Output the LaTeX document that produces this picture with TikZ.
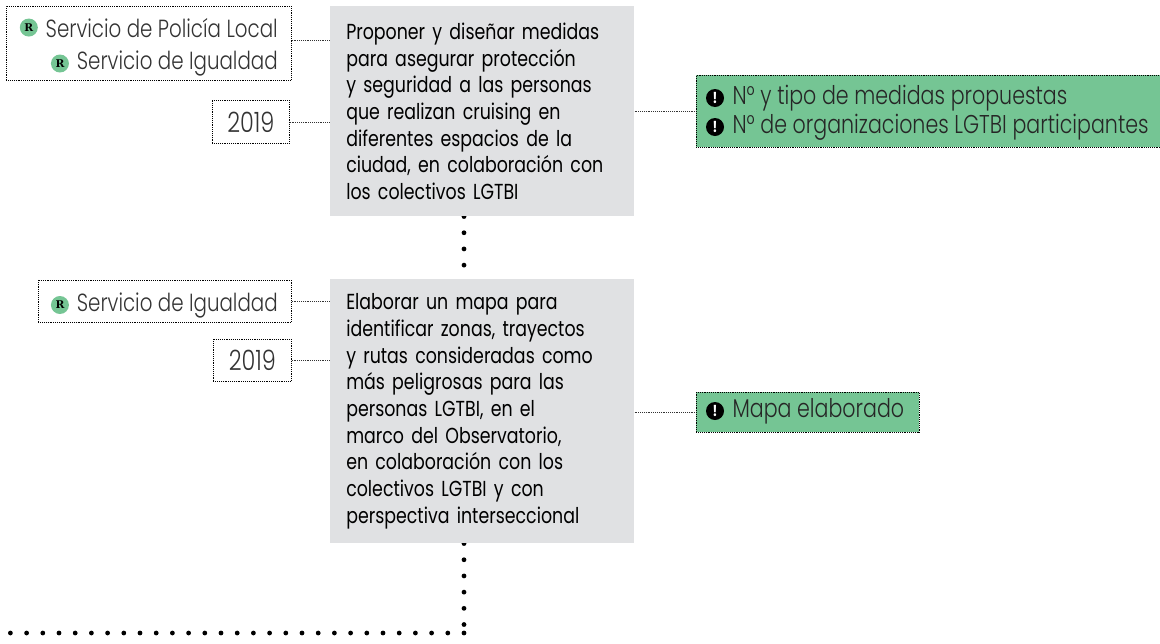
\documentclass[tikz,border=0pt]{standalone}
\usepackage{fontspec}
\setmainfont{Poppins}[FakeStretch=0.8]
\newfontfamily\lightfont{Poppins Light}[FakeStretch=0.8]
\newfontfamily\markfont{DejaVu Serif}
\usetikzlibrary{positioning, calc, backgrounds}
\definecolor{mintgreen}{HTML}{75C594}
\definecolor{boxgray}{HTML}{E0E1E3}
\definecolor{labelgray}{HTML}{333333}
\tikzset{
  dotbox/.style={draw=black, line width=0.5pt, dash pattern=on 0.7pt off 0.7pt, anchor=north west, inner sep=0pt},
  conn/.style={draw=black!80, line width=0.5pt, dash pattern=on 0.7pt off 0.7pt},
  dotline/.style={line width=3.6pt, line cap=round, dash pattern=on 0pt off 12.15pt},
  actionbox/.style={fill=boxgray, anchor=north west, minimum width=228pt, inner xsep=12pt, inner ysep=0pt, text width=204pt, align=left, font=\fontsize{16.3}{20}\selectfont},
  unitlabel/.style={anchor=base east, inner sep=0pt, text=labelgray, font=\lightfont\fontsize{18.6}{20}\selectfont},
  goallabel/.style={right=6pt of #1, inner sep=0pt, text=black!85, font=\lightfont\fontsize{19.3}{20}\selectfont},
  rmark/.style={left=5.5pt of #1, circle, fill=mintgreen, inner sep=0pt, minimum size=13.5pt, text=black, font=\markfont\fontsize{8}{8}\bfseries\selectfont},
  alertmark/.style={circle, fill=black, inner sep=0pt, minimum size=13.5pt, text=white, font=\fontsize{11.5}{11.5}\bfseries\selectfont}
}
\begin{document}
\begin{tikzpicture}[x=0.75pt, y=-0.75pt]
  \useasboundingbox (0,0) rectangle (1160,643);

  \node[actionbox, minimum height=157.5pt] (action1) at (330,6) {Proponer y diseñar medidas\\para asegurar protección\\y seguridad a las personas\\que realizan cruising en\\diferentes espacios de la\\ciudad, en colaboración con\\los colectivos LGTBI};
  \node[actionbox, minimum height=198pt] (action2) at (330,279) {Elaborar un mapa para\\identificar zonas, trayectos\\y rutas consideradas como\\más peligrosas para las\\personas LGTBI, en el\\marco del Observatorio,\\en colaboración con los\\colectivos LGTBI y con\\perspectiva interseccional};

  \node[dotbox, minimum width=213.75pt, minimum height=55.5pt] (unit1) at (6,6) {};
  \node[dotbox, minimum width=57.75pt, minimum height=32.25pt, font=\lightfont\fontsize{21}{22}\selectfont, text=labelgray] (date1) at (212,100) {2019};
  \node[dotbox, minimum width=189.75pt, minimum height=32pt] (unit2) at (38,279.5) {};
  \node[dotbox, minimum width=58.5pt, minimum height=31.5pt, font=\lightfont\fontsize{21}{22}\selectfont, text=labelgray] (date2) at (213,339) {2019};

  \node[unitlabel] (police) at (278,37) {Servicio de Policía Local};
  \node[rmark=police] (rpolice) {R};
  \node[unitlabel] (equality1) at (278,69.5) {Servicio de Igualdad};
  \node[rmark=equality1] (requality1) {R};
  \node[unitlabel] (equality2) at (278,311) {Servicio de Igualdad};
  \node[rmark=equality2] (requality2) {R};

  \node[dotbox, fill=mintgreen, minimum width=348pt, minimum height=54pt] (goal1) at (696,75) {};
  \node[dotbox, fill=mintgreen, minimum width=167.25pt, minimum height=30pt] (goal2) at (696,392) {};

  \node[alertmark] (alert1) at (715,98) {!};
  \node[goallabel=alert1] (measures) {N° y tipo de medidas propuestas};
  \node[alertmark] (alert2) at (715,127) {!};
  \node[goallabel=alert2] (groups) {N° de organizaciones LGTBI participantes};
  \node[alertmark] (alert3) at (715,411) {!};
  \node[goallabel=alert3] (map) {Mapa elaborado};

  \draw[conn] ([yshift=2.5pt]unit1.east) -- ([yshift=2.5pt]action1.west |- unit1.east);
  \draw[conn] (date1.east) -- (action1.west |- date1.east);
  \draw[conn] (action1.east |- goal1.west) -- (goal1.west);
  \draw[conn] (unit2.east) -- (action2.west |- unit2.east);
  \draw[conn] (date2.east) -- (action2.west |- date2.east);
  \draw[conn] (action2.east |- goal2.west) -- (goal2.west);

  \coordinate (corner) at (464,633);
  \coordinate (rowend) at (8,633);
  \begin{scope}[on background layer]
    \draw[dotline] (action1.south -| corner) -- (action2.north -| corner);
    \draw[dotline] (action2.south -| corner) -- (corner);
    \draw[dotline] (corner) -- (rowend);
  \end{scope}
\end{tikzpicture}
\end{document}
